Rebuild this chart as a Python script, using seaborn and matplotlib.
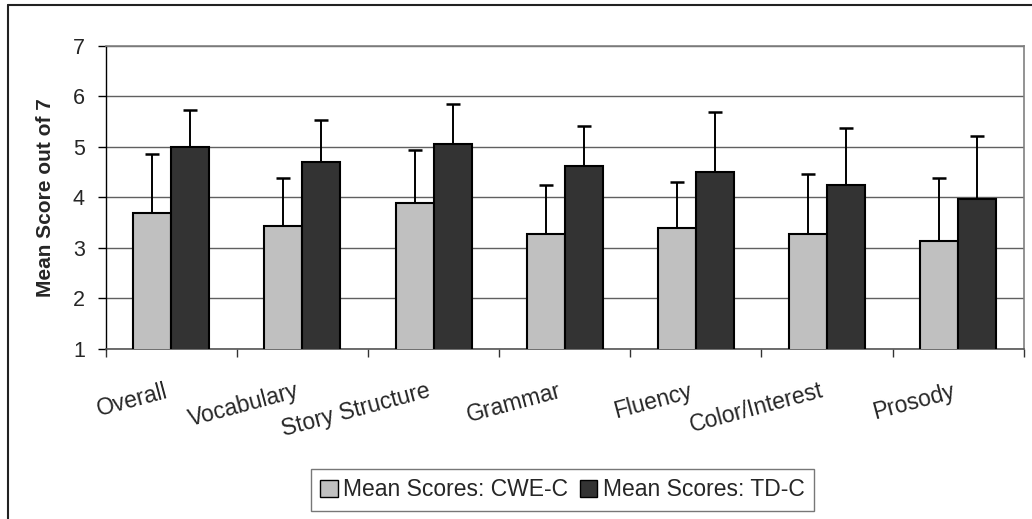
import seaborn as sns
import numpy as np
import pandas as pd
import matplotlib.pyplot as plt
from matplotlib.lines import Line2D
from matplotlib.transforms import ScaledTranslation

# Data
categories = ['Overall', 'Vocabulary', 'Story Structure', 'Grammar',
              'Fluency', 'Color/Interest', 'Prosody']
cwe_mean = [3.69, 3.44, 3.89, 3.28, 3.40, 3.28, 3.13]
cwe_err = [1.17, 0.95, 1.06, 0.96, 0.91, 1.19, 1.26]
td_mean = [5.00, 4.70, 5.06, 4.63, 4.50, 4.24, 3.96]
td_err = [0.74, 0.83, 0.79, 0.79, 1.19, 1.14, 1.26]
series = ['Mean Scores: CWE-C', 'Mean Scores: TD-C']

df = pd.DataFrame({
    'category': categories * 2,
    'group': [series[0]] * len(categories) + [series[1]] * len(categories),
    'score': cwe_mean + td_mean,
})

sns.set_style('white')
plt.rcParams['font.family'] = ['Liberation Sans', 'DejaVu Sans']

fig = plt.figure(figsize=(10.32, 5.19), dpi=100)
ax = fig.add_axes([0.1024, 0.3276, 0.8896, 0.5838])

palette = {series[0]: '#c0c0c0', series[1]: '#333333'}
sns.barplot(data=df, x='category', y='score', hue='group', order=categories,
            hue_order=series, palette=palette, width=0.58, errorbar=None,
            edgecolor='black', linewidth=1.5, ax=ax, zorder=3)

# upper-only error bars, placed on the drawn bars
for cont, means, errs in zip(ax.containers, [cwe_mean, td_mean], [cwe_err, td_err]):
    xs = [p.get_x() + p.get_width() / 2 for p in cont.patches]
    ax.errorbar(xs, means, yerr=[np.zeros(len(errs)), errs], fmt='none',
                ecolor='black', elinewidth=1.4, capsize=4.7, capthick=1.8,
                zorder=2)

ax.set_ylim(1, 7)
ax.set_xlim(-0.5, len(categories) - 0.5)
ax.set_yticks(range(1, 8))
ax.yaxis.grid(True, color='#606060', linewidth=1)
ax.set_axisbelow(True)
ax.tick_params(axis='y', which='major', left=True, length=6, width=1,
               color='black', labelsize=15.5, pad=9)

# category ticks at boundaries, labels at centres
ax.set_xticks(np.arange(-0.5, len(categories), 1.0), minor=True)
ax.tick_params(axis='x', which='minor', bottom=True, length=6, width=1,
               color='#333333')
ax.tick_params(axis='x', which='major', bottom=False, length=0, pad=22)
ax.set_xticks(range(len(categories)))
ax.set_xticklabels(categories, rotation=15, ha='right',
                   rotation_mode='anchor', fontsize=16.5)
shift = ScaledTranslation(-0.07, 0, fig.dpi_scale_trans)
for lab in ax.get_xticklabels():
    lab.set_transform(lab.get_transform() + shift)

ax.set_xlabel('')
ax.set_ylabel('Mean Score out of 7', fontsize=15, fontweight='bold',
              labelpad=13)

for side in ['top', 'right']:
    ax.spines[side].set_visible(True)
    ax.spines[side].set_color('#808080')
    ax.spines[side].set_linewidth(1.2)
ax.spines['left'].set_color('black')
ax.spines['left'].set_linewidth(1)
ax.spines['bottom'].set_color('#555555')
ax.spines['bottom'].set_linewidth(1.2)

ax.legend_.remove()
handles = [plt.Rectangle((0, 0), 1, 1, facecolor=palette[s], edgecolor='black',
                         linewidth=1) for s in series]
leg = fig.legend(handles, series, loc='center', bbox_to_anchor=(0.545, 0.056),
                 ncol=2, fontsize=16.5, frameon=True, fancybox=False,
                 edgecolor='#555555', handlelength=0.75, handleheight=0.75,
                 handletextpad=0.25, columnspacing=0.5, borderpad=0.4,
                 borderaxespad=0)
leg.get_frame().set_linewidth(1)

# outer chart frame (left and top edges visible)
fig.add_artist(Line2D([8 / 1032, 8 / 1032], [0, 1 - 5 / 519],
                      color='#222222', linewidth=1.5))
fig.add_artist(Line2D([8 / 1032, 1], [1 - 5 / 519, 1 - 5 / 519],
                      color='#222222', linewidth=1.5))

fig.savefig('out.png', dpi=100)
